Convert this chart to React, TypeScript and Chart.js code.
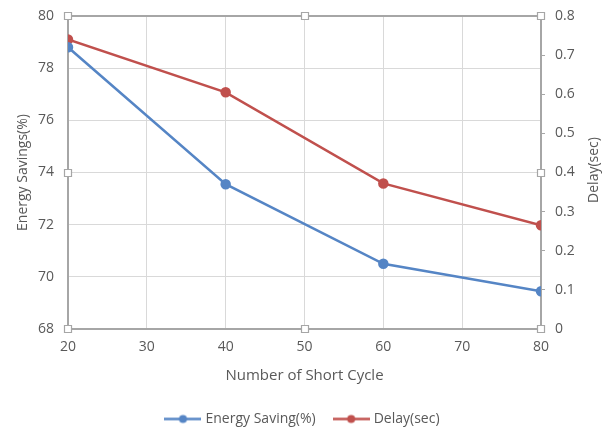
import React, { useEffect, useRef } from "react";
import { Chart, registerables } from "chart.js";

Chart.register(...registerables);

const cycles = [20, 40, 60, 80];
const energySaving = [78.8, 73.55, 70.5, 69.45];
const delaySec = [0.74, 0.605, 0.372, 0.265];

const BLUE = "#5585c5";
const RED = "#c0504d";
const TEXT = "#595959";
const FONT = "'Open Sans', 'Noto Sans', sans-serif";

function legendIcon(color: string) {
  const c = document.createElement("canvas");
  c.width = 37;
  c.height = 11;
  const ctx = c.getContext("2d")!;
  ctx.strokeStyle = color;
  ctx.lineWidth = 2.5;
  ctx.beginPath();
  ctx.moveTo(0, 5.5);
  ctx.lineTo(37, 5.5);
  ctx.stroke();
  ctx.fillStyle = color;
  ctx.beginPath();
  ctx.arc(18.5, 5.5, 4, 0, Math.PI * 2);
  ctx.fill();
  return c;
}

const framePlugin = {
  id: "frame",
  beforeDatasetsDraw(chart: any) {
    const { ctx, chartArea: a } = chart;
    ctx.save();
    ctx.strokeStyle = "#a6a6a6";
    ctx.lineWidth = 2;
    ctx.strokeRect(a.left, a.top, a.right - a.left, a.bottom - a.top);
    ctx.restore();
  },
  afterDraw(chart: any) {
    const { ctx, chartArea: a } = chart;
    ctx.save();
    ctx.fillStyle = TEXT;
    ctx.font = `14px ${FONT}`;
    ctx.textAlign = "center";
    ctx.textBaseline = "middle";
    ctx.translate(594, 170);
    ctx.rotate(-Math.PI / 2);
    ctx.fillText("Delay(sec)", 0, 0);
    ctx.restore();
    const midX = (a.left + a.right) / 2;
    const midY = (a.top + a.bottom) / 2;
    const pts = [
      [a.left, a.top], [midX, a.top], [a.right, a.top],
      [a.left, midY], [a.right, midY],
      [a.left, a.bottom], [midX, a.bottom], [a.right, a.bottom],
    ];
    ctx.save();
    ctx.fillStyle = "#ffffff";
    ctx.strokeStyle = "#a6a6a6";
    ctx.lineWidth = 1.2;
    for (const [x, y] of pts) {
      ctx.beginPath();
      ctx.rect(Math.round(x) - 3.5, Math.round(y) - 3.5, 7, 7);
      ctx.fill();
      ctx.stroke();
    }
    ctx.restore();
  },
};

export default function App() {
  const ref = useRef<HTMLCanvasElement>(null);
  useEffect(() => {
    document.body.style.margin = "0";
    const blueIcon = legendIcon(BLUE);
    const redIcon = legendIcon(RED);
    const chart = new Chart(ref.current!, {
      type: "line",
      data: {
        datasets: [
          {
            label: "Energy Saving(%)",
            data: cycles.map((c, i) => ({ x: c, y: energySaving[i] })),
            borderColor: BLUE,
            backgroundColor: BLUE,
            borderWidth: 2.5,
            pointRadius: 4,
            pointStyle: "circle",
            yAxisID: "y",
          },
          {
            label: "Delay(sec)",
            data: cycles.map((c, i) => ({ x: c, y: delaySec[i] })),
            borderColor: RED,
            backgroundColor: RED,
            borderWidth: 2.5,
            pointRadius: 4,
            pointStyle: "circle",
            yAxisID: "y1",
          },
        ],
      },
      options: {
        animation: false,
        responsive: false,
        maintainAspectRatio: false,
        layout: { padding: { top: 16, left: 0, right: 0, bottom: 0 } },
        plugins: {
          tooltip: { enabled: false },
          legend: {
            position: "bottom",
            labels: {
              usePointStyle: true,
              pointStyleWidth: 31,
              padding: 20,
              color: TEXT,
              font: { size: 14, family: FONT },
              generateLabels: () => [
                { text: "Energy Saving(%)", pointStyle: blueIcon as any, fillStyle: BLUE, strokeStyle: BLUE, lineWidth: 0, datasetIndex: 0, fontColor: TEXT },
                { text: "Delay(sec)", pointStyle: redIcon as any, fillStyle: RED, strokeStyle: RED, lineWidth: 0, datasetIndex: 1, fontColor: TEXT },
              ] as any,
            },
          },
        },
        scales: {
          x: {
            type: "linear",
            min: 20,
            max: 80,
            ticks: { stepSize: 10, color: TEXT, font: { size: 14, family: FONT }, padding: 10, maxRotation: 0 },
            grid: { color: "#d9d9d9", drawTicks: false },
            border: { display: false },
            title: { display: true, text: "Number of Short Cycle", color: TEXT, font: { size: 15, family: FONT }, padding: { top: 0, bottom: 7 } },
            afterFit: (s: any) => { s.height = 63; s.paddingLeft = 0; s.paddingRight = 0; },
          },
          y: {
            type: "linear",
            position: "left",
            min: 68,
            max: 80,
            ticks: { stepSize: 2, color: TEXT, font: { size: 14, family: FONT }, padding: 14 },
            grid: { color: "#d9d9d9", drawTicks: false },
            border: { display: false },
            title: { display: true, text: "Energy Savings(%)", color: TEXT, font: { size: 14, family: FONT }, padding: { top: 15, bottom: 0 } },
            afterFit: (s: any) => { s.width = 68; s.paddingTop = 0; s.paddingBottom = 0; },
          },
          y1: {
            type: "linear",
            position: "right",
            min: 0,
            max: 0.8,
            ticks: { stepSize: 0.1, color: TEXT, font: { size: 14, family: FONT }, padding: 10 },
            grid: { drawOnChartArea: false, color: "#a6a6a6", tickLength: 4 },
            border: { display: false },
            afterFit: (s: any) => { s.width = 66; s.paddingTop = 0; s.paddingBottom = 0; },
          },
        },
      },
      plugins: [framePlugin],
    });
    return () => chart.destroy();
  }, []);
  return (
    <div style={{ width: 607, height: 436 }}>
      <canvas ref={ref} width={607} height={436} style={{ display: "block", width: 607, height: 436 }} />
    </div>
  );
}
